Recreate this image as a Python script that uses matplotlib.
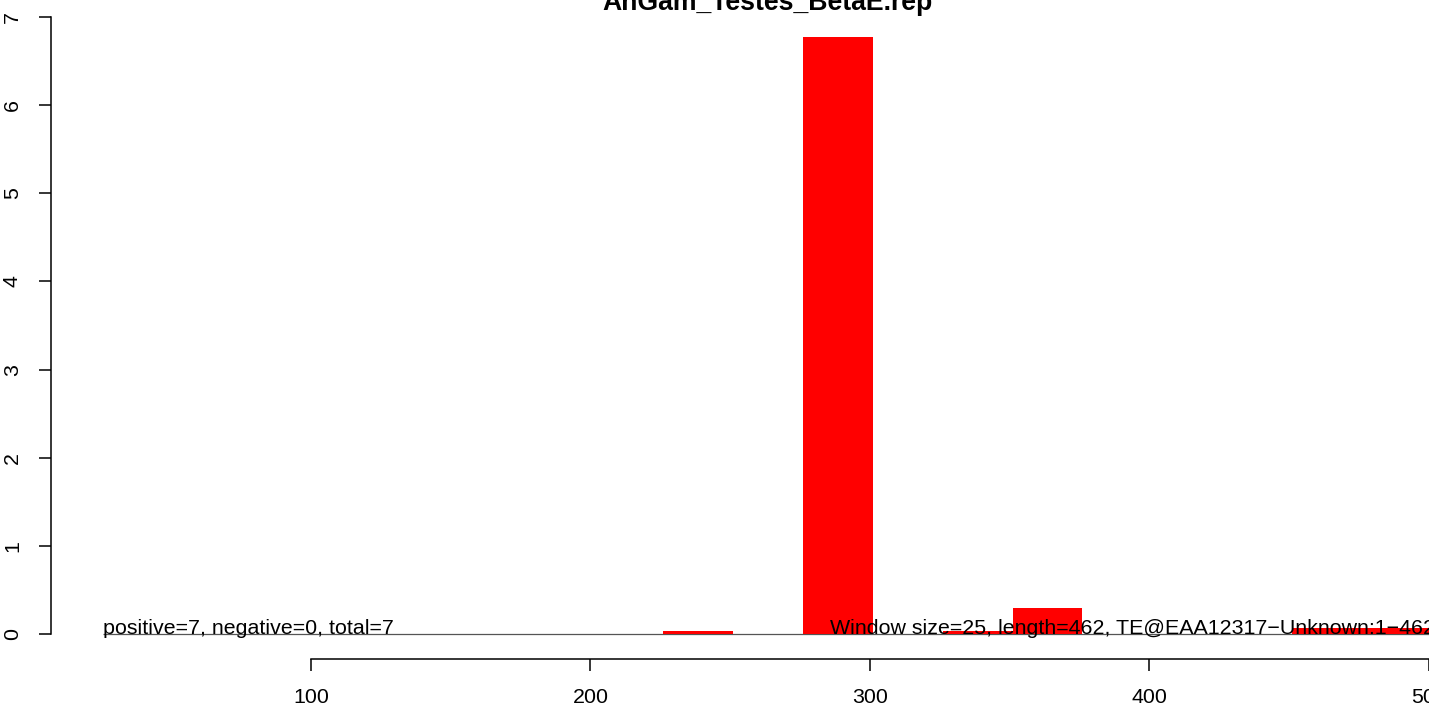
import matplotlib
matplotlib.use("Agg")
import matplotlib.pyplot as plt

plt.rcParams['font.family'] = ['Liberation Sans', 'DejaVu Sans']

# window start positions and scores
window_size = 25
window_starts = [226, 276, 326, 351, 451, 476]
scores = [0.037, 6.776, 0.037, 0.298, 0.065, 0.065]
baseline_start = 25.6
x_ticks = [100, 200, 300, 400, 500]
y_ticks = [0, 1, 2, 3, 4, 5, 6, 7]

title = "AnGam_Testes_BetaE.rep"
left_note = "positive=7, negative=0, total=7"
right_note = "Window size=25, length=462, TE@EAA12317\u2212Unknown:1\u2212462"

W, H = 1429, 706
fig = plt.figure(figsize=(W / 100, H / 100), dpi=100)
ax = fig.add_axes([50.5 / W, 47 / H, (W - 50.5) / W, 642 / H])

ax.bar(window_starts, scores, width=window_size, align="edge", color="red", linewidth=0, zorder=2)
ax.hlines(0, baseline_start, 520, color="#555555", linewidth=0.9, zorder=1)

ax.text(baseline_start, 0, left_note, ha="left", va="baseline", fontsize=15.4, zorder=3)
ax.text(285.6, 0, right_note, ha="left", va="baseline", fontsize=15.4, zorder=3, clip_on=False)

ax.set_xlim(6.8, 500)
ax.set_ylim(-0.2836, 7)

for s in ["top", "right"]:
    ax.spines[s].set_visible(False)
ax.spines["left"].set_bounds(0, 7)
ax.spines["bottom"].set_bounds(100, 500)
for s in ["left", "bottom"]:
    ax.spines[s].set_linewidth(1.1)

ax.set_xticks(x_ticks)
ax.set_yticks(y_ticks)
ax.set_yticklabels([str(v) for v in y_ticks], rotation=90, va="center")
ax.tick_params(axis="y", length=8.6, width=1.1, pad=12, labelsize=15.4)
ax.tick_params(axis="x", length=8.6, width=1.1, pad=12.5, labelsize=15.4)

fig.text(767 / W, 1 - 9.5 / H, title, ha="center", va="baseline", fontsize=19.2, fontweight="bold")

fig.savefig("out.png", dpi=100)
